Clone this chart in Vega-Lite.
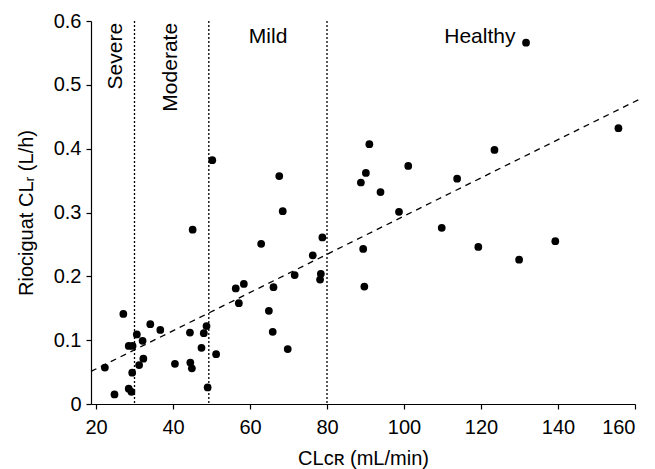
{
  "$schema": "https://vega.github.io/schema/vega-lite/v6.json",
  "width": 544,
  "height": 383,
  "autosize": {"type": "none"},
  "padding": {"left": 91, "top": 21, "right": 20, "bottom": 65},
  "background": "white",
  "config": {
    "view": {"stroke": null},
    "font": "Liberation Sans",
    "axis": {
      "grid": false,
      "domainColor": "black",
      "tickColor": "black",
      "labelColor": "black",
      "titleColor": "black",
      "labelFont": "Liberation Sans",
      "titleFont": "Liberation Sans",
      "labelFontSize": 20,
      "titleFontSize": 20,
      "titleFontWeight": "normal",
      "tickSize": 5,
      "domainWidth": 1.2,
      "tickWidth": 1.2
    }
  },
  "datasets": {
    "pts": [
      {"clcr": 45.1, "clr": 0.273},
      {"clcr": 62.9, "clr": 0.251},
      {"clcr": 78.8, "clr": 0.261},
      {"clcr": 76.3, "clr": 0.233},
      {"clcr": 89.4, "clr": 0.243},
      {"clcr": 89.7, "clr": 0.184},
      {"clcr": 71.6, "clr": 0.202},
      {"clcr": 78.4, "clr": 0.204},
      {"clcr": 78.2, "clr": 0.195},
      {"clcr": 56.3, "clr": 0.181},
      {"clcr": 58.4, "clr": 0.188},
      {"clcr": 57.1, "clr": 0.158},
      {"clcr": 66.1, "clr": 0.183},
      {"clcr": 64.9, "clr": 0.146},
      {"clcr": 65.9, "clr": 0.113},
      {"clcr": 69.8, "clr": 0.086},
      {"clcr": 27.1, "clr": 0.141},
      {"clcr": 34.1, "clr": 0.125},
      {"clcr": 36.7, "clr": 0.116},
      {"clcr": 30.6, "clr": 0.109},
      {"clcr": 32.1, "clr": 0.099},
      {"clcr": 28.5, "clr": 0.091},
      {"clcr": 29.5, "clr": 0.091},
      {"clcr": 22.3, "clr": 0.057},
      {"clcr": 32.3, "clr": 0.071},
      {"clcr": 31.2, "clr": 0.061},
      {"clcr": 29.4, "clr": 0.049},
      {"clcr": 24.8, "clr": 0.015},
      {"clcr": 28.5, "clr": 0.024},
      {"clcr": 29.2, "clr": 0.019},
      {"clcr": 44.4, "clr": 0.112},
      {"clcr": 48.0, "clr": 0.111},
      {"clcr": 48.7, "clr": 0.122},
      {"clcr": 47.4, "clr": 0.088},
      {"clcr": 51.2, "clr": 0.078},
      {"clcr": 40.5, "clr": 0.063},
      {"clcr": 44.5, "clr": 0.065},
      {"clcr": 44.9, "clr": 0.056},
      {"clcr": 49.0, "clr": 0.026},
      {"clcr": 50.2, "clr": 0.382},
      {"clcr": 67.6, "clr": 0.357},
      {"clcr": 68.5, "clr": 0.302},
      {"clcr": 91.0, "clr": 0.407},
      {"clcr": 90.1, "clr": 0.362},
      {"clcr": 88.8, "clr": 0.347},
      {"clcr": 131.7, "clr": 0.566},
      {"clcr": 155.7, "clr": 0.432},
      {"clcr": 123.5, "clr": 0.398},
      {"clcr": 101.1, "clr": 0.373},
      {"clcr": 113.8, "clr": 0.353},
      {"clcr": 93.9, "clr": 0.332},
      {"clcr": 98.7, "clr": 0.301},
      {"clcr": 109.8, "clr": 0.276},
      {"clcr": 119.3, "clr": 0.246},
      {"clcr": 139.3, "clr": 0.255},
      {"clcr": 129.9, "clr": 0.226}
    ],
    "cutoffs": [{"clcr": 30}, {"clcr": 49.3}, {"clcr": 80}],
    "fit": [{"clcr": 18.7, "clr": 0.051}, {"clcr": 161, "clr": 0.477}],
    "vlabels": [
      {"clcr": 25.2, "clr": 0.597, "label": "Severe"},
      {"clcr": 39.5, "clr": 0.597, "label": "Moderate"}
    ],
    "hlabels": [
      {"clcr": 64.7, "clr": 0.575, "label": "Mild"},
      {"clcr": 119.7, "clr": 0.575, "label": "Healthy"}
    ]
  },
  "layer": [
    {
      "data": {"name": "cutoffs"},
      "mark": {"type": "rule", "color": "black", "strokeWidth": 1.3, "strokeDash": [2, 2]},
      "encoding": {
        "x": {"field": "clcr", "type": "quantitative", "scale": {"domain": [18.7, 160], "nice": false, "zero": false}}
      }
    },
    {
      "data": {"name": "fit"},
      "mark": {"type": "line", "color": "black", "strokeWidth": 1.3, "strokeDash": [6, 5], "clip": false},
      "encoding": {
        "x": {"field": "clcr", "type": "quantitative"},
        "y": {"field": "clr", "type": "quantitative"}
      }
    },
    {
      "data": {"name": "pts"},
      "mark": {"type": "circle", "color": "black", "opacity": 1, "size": 60},
      "encoding": {
        "x": {
          "field": "clcr", "type": "quantitative",
          "scale": {"domain": [18.7, 160], "nice": false, "zero": false},
          "axis": {"values": [20, 40, 60, 80, 100, 120, 140, 160], "title": "CLᴄʀ (mL/min)", "labelPadding": 8, "titlePadding": 11}
        },
        "y": {
          "field": "clr", "type": "quantitative",
          "scale": {"domain": [0, 0.6], "nice": false},
          "axis": {"values": [0, 0.1, 0.2, 0.3, 0.4, 0.5, 0.6], "labelExpr": "datum.value == 0 ? '0' : format(datum.value, '.1f')", "title": "Riociguat CLᵣ (L/h)", "labelPadding": 5, "titlePadding": 17}
        }
      }
    },
    {
      "data": {"name": "vlabels"},
      "mark": {"type": "text", "angle": 270, "align": "right", "baseline": "middle", "fontSize": 21, "font": "Liberation Sans", "color": "black"},
      "encoding": {
        "x": {"field": "clcr", "type": "quantitative"},
        "y": {"field": "clr", "type": "quantitative"},
        "text": {"field": "label"}
      }
    },
    {
      "data": {"name": "hlabels"},
      "mark": {"type": "text", "align": "center", "baseline": "middle", "fontSize": 21, "font": "Liberation Sans", "color": "black"},
      "encoding": {
        "x": {"field": "clcr", "type": "quantitative"},
        "y": {"field": "clr", "type": "quantitative"},
        "text": {"field": "label"}
      }
    }
  ]
}
